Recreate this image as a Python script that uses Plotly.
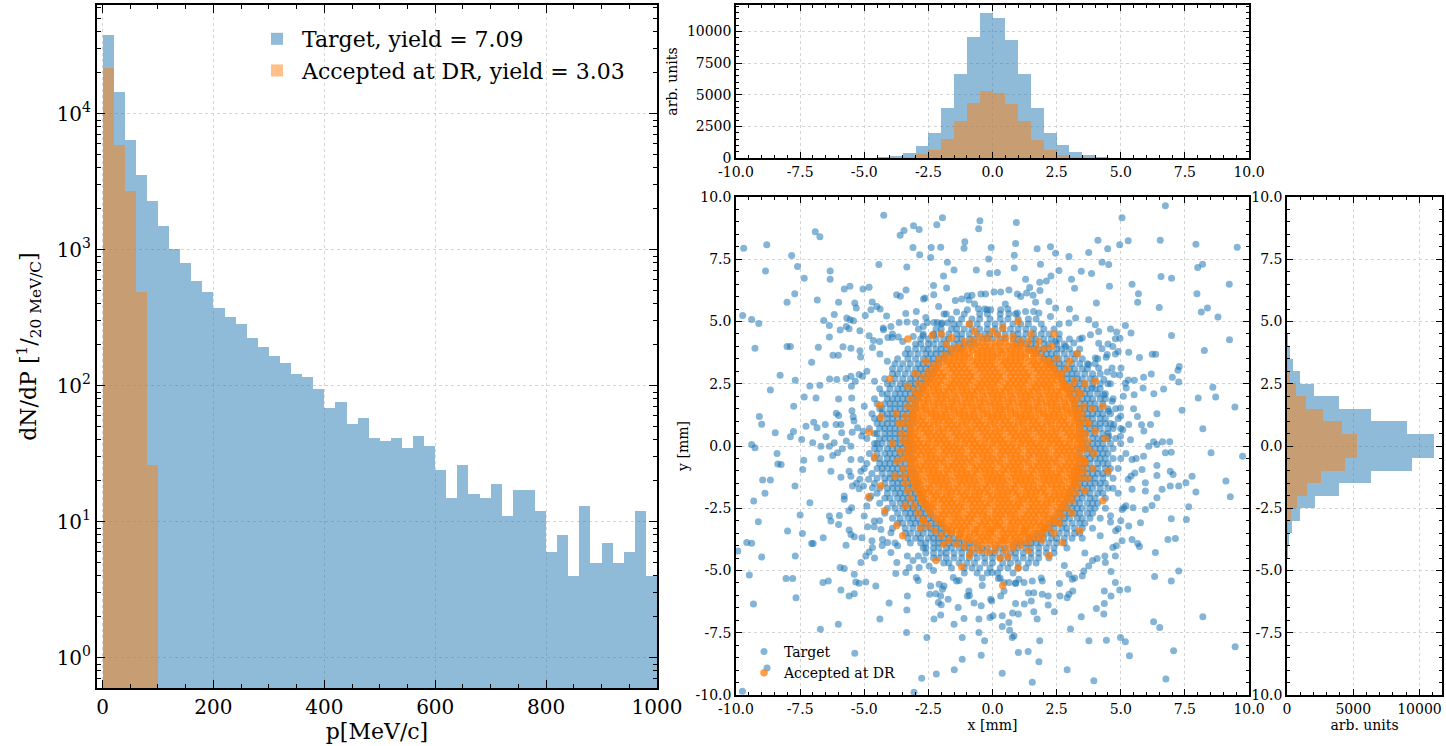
import plotly.graph_objects as go

# ---------------- DATA ----------------
# Left panel: momentum spectrum, 20 MeV/c bins (left edges)
P_BIN_LEFT = [0, 20, 40, 60, 80, 100, 120, 140, 160, 180, 200, 220, 240, 260, 280, 300, 320, 340, 360, 380,
              400, 420, 440, 460, 480, 500, 520, 540, 560, 580, 600, 620, 640, 660, 680, 700, 720, 740, 760, 780,
              800, 820, 840, 860, 880, 900, 920, 940, 960, 980]
P_TARGET = [37700, 14500, 6430, 3530, 2270, 1500, 1010, 796, 590, 489, 376, 319, 285, 223, 192, 165, 148, 122, 117, 95,
            69, 76, 52, 58, 41, 39, 41, 35, 43, 36, 24, 15, 26, 16, 15, 19, 11, 17, 17, 12,
            6, 8, 4, 13, 5, 7, 5, 6, 12, 4]
P_ACCEPTED = [21800, 5910, 2700, 489, 26]
P_TICKS = [0, 200, 400, 600, 800, 1000]
P_LOG_TICKS = [1, 10, 100, 1000, 10000]
P_LOG_LABELS = ["10<sup>0</sup>", "10<sup>1</sup>", "10<sup>2</sup>", "10<sup>3</sup>", "10<sup>4</sup>"]
LEGEND_TARGET = "Target, yield = 7.09"
LEGEND_ACCEPTED = "Accepted at DR, yield = 3.03"

# Projections: 0.5 mm bins (left edges)
XY_BIN_LEFT = [-5.0, -4.5, -4.0, -3.5, -3.0, -2.5, -2.0, -1.5, -1.0, -0.5,
               0.0, 0.5, 1.0, 1.5, 2.0, 2.5, 3.0, 3.5, 4.0, 4.5]
X_TARGET = [30, 90, 190, 410, 930, 1950, 3950, 6620, 9580, 11500,
            11100, 9300, 6620, 3950, 2000, 1000, 460, 210, 95, 35]
X_ACCEPTED = [0, 0, 30, 110, 280, 640, 1470, 2900, 4380, 5280,
              5150, 4280, 2930, 1460, 660, 270, 100, 30, 0, 0]
Y_TARGET = [30, 90, 160, 380, 990, 2080, 3960, 6310, 9400, 11060,
            11060, 9080, 6360, 3890, 2030, 990, 445, 200, 90, 30]
Y_ACCEPTED = [0, 0, 20, 80, 300, 720, 1530, 2600, 4380, 5250,
              5250, 4130, 2700, 1410, 670, 250, 80, 25, 0, 0]
MM_TICKS = [-10, -7.5, -5, -2.5, 0, 2.5, 5, 7.5, 10]
MM_LABELS = ["-10.0", "-7.5", "-5.0", "-2.5", "0.0", "2.5", "5.0", "7.5", "10.0"]
HX_TICKS = [0, 2500, 5000, 7500, 10000]
HX_LABELS = ["0", "2500", "5000", "7500", "10000"]
HY_TICKS = [0, 5000, 10000]
HY_LABELS = ["0", "5000", "10000"]

# Scatter (x, y in mm).
BLUE_OUTER_PAIRS = """
-9.7,7.94 -8.8,8.08 -8.85,7.03 -7.83,7.65 -7.6,7.21 -7.34,6.74 -6.91,8.6 -6.73,8.4 -6.33,7.03 -6.33,6.7
-7.71,6.11 -8.01,5.77 -6.83,5.86 -9.74,5.24 -9.39,5.08 -9.11,4.92 -9.26,3.93 -8.01,4.0 -7.88,4.0 -7.05,3.36
-6.79,3.97 -8.28,2.84 -7.69,2.64 -8.66,2.25 -7.75,1.6 -7.34,1.97 -6.88,1.93 -7.12,2.41 -6.73,2.44 -9.09,1.18
-9.0,0.87 -8.47,0.53 -7.88,0.37 -7.76,0.58 -7.27,0.79 -6.97,0.95 -6.84,0.73 -6.52,0.86 -6.49,0.37 -7.44,0.26
-4.24,9.27 -3.6,8.46 -3.45,8.65 -3.08,8.85 -2.86,8.69 -2.17,8.89 -1.95,9.17 -0.49,9.05 -0.54,8.72 -1.08,8.2
-1.11,7.94 -0.05,7.97 -0.15,7.51 -0.11,6.93 -0.63,7.07 -1.5,7.07 -1.91,6.83 -1.76,7.38 -2.02,7.98 -2.39,7.97
-2.41,7.57 -2.84,7.68 -3.1,7.97 -3.34,7.19 -4.43,7.29 -5.78,6.31 -5.56,6.42 -5.05,6.31 -4.81,6.38 -6.0,5.77
-6.58,5.04 -6.17,5.28 -6.36,4.84 -6.36,4.38 -5.94,4.66 -5.68,5.14 -5.55,5.07 -5.42,5.03 -5.7,4.8 -5.59,4.71
-5.37,5.74 -5.31,5.54 -4.96,5.24 -4.74,5.47 -4.69,5.78 -4.51,5.6 -4.38,5.5 -4.13,5.22 -3.74,6.07 -3.59,6.01
-3.37,6.27 -3.38,5.32 -3.64,4.96 -5.17,4.63 -4.81,4.43 -4.64,4.24 -4.26,4.74 -4.25,4.67 -3.96,4.8 -4.08,4.36
-3.91,4.36 -3.67,4.38 -5.83,3.99 -5.52,3.93 -5.17,3.83 -6.22,3.64 -6.01,3.64 -5.14,3.57 -4.68,3.96 -4.39,3.69
-6.07,2.67 -6.35,2.69 -5.71,2.71 -5.52,2.8 -5.35,2.6 -5.2,2.87 -5.07,2.8 -6.0,1.89 -5.49,1.93 -5.48,1.42
-5.43,1.17 -6.09,1.32 -6.0,1.22 -5.91,0.86 -5.88,0.53 -5.47,0.55 -5.26,0.73 -5.04,0.59 -6.1,0.86
-2.69,5.9 -2.63,5.94 -2.29,6.07 -2.3,6.45 -1.79,6.35 -1.45,5.84 -0.98,6.03 -0.92,5.86 -0.8,6.05 -0.45,6.1
-0.27,6.1 -0.2,5.47 -0.07,5.47 -1.4,5.38 -0.98,5.47 -0.55,5.51 -2.6,5.16 -2.97,5.4 -3.33,4.98 -1.89,5.3
-3.0,4.96 -2.89,4.7 -2.54,4.96 -2.28,4.96 -2.15,4.96 -1.97,4.94 -1.75,4.95 -3.09,4.4 -2.71,4.43 -2.29,4.46
6.74,9.65 5.05,9.17 0.93,8.98 0.9,8.13 0.85,7.66 0.85,7.15 1.74,7.92 2.26,8.0 2.46,7.74 1.87,7.3
2.98,7.61 2.59,7.05 2.28,6.83 2.1,6.63 1.84,6.58 1.29,6.7 1.45,6.37 0.64,6.27 0.32,6.18 0.06,6.18
0.97,6.1 1.33,6.14 1.58,6.05 1.85,6.25 1.68,5.77 0.19,6.97 3.08,6.7 3.2,6.34 3.46,7.02 3.86,6.93
3.75,7.77 4.11,8.26 4.49,7.92 4.27,7.38 4.53,7.29 4.56,6.42 4.05,5.74 4.96,8.08 5.29,8.24 6.54,8.26
6.57,6.81 6.98,6.74 5.44,6.5 5.69,6.11 5.66,5.77 6.5,5.56 7.93,8.1 8.0,7.17 8.19,7.3 7.97,6.11
8.14,5.38 8.38,5.54 8.79,5.18 9.23,6.5 9.54,7.98 9.24,4.27 8.26,3.84 6.98,4.44 5.18,4.84 5.4,4.54
4.6,4.7 4.84,4.58 4.79,4.31 4.97,4.33 5.31,3.77 5.73,3.55 6.23,3.68 6.36,3.68 7.28,3.19 7.23,3.04
7.01,2.76 6.67,2.29 6.19,2.89 5.89,2.76 5.53,2.64 5.29,2.65 5.18,2.52 5.21,2.33 5.52,2.06 5.87,2.33
6.29,2.1 7.26,2.57 7.39,1.44 8.02,1.93 8.59,2.36 8.7,1.97 9.45,1.57 8.2,0.69 6.41,1.3 5.65,1.18
5.81,0.85 6.16,0.86 5.08,0.65 5.38,0.25 6.28,0.17 6.63,0.17 6.91,0.17 4.79,3.69 4.69,4.0 4.27,3.91
4.43,3.56 4.66,3.13 5.01,3.13 4.96,2.85 4.73,2.87 4.48,2.97
0.32,5.47 0.64,5.31 0.97,5.34 1.29,5.4 1.81,5.34 2.26,5.2 2.46,5.54 2.98,4.94 3.24,5.14 3.75,5.07
4.01,4.87 4.14,4.6 3.82,4.47 3.5,4.34 3.17,4.14 2.85,4.0 2.46,4.2 4.14,4.13 4.47,3.67 4.01,3.53
3.75,3.27 4.14,3.13 4.34,2.67 3.88,2.33 4.34,2.06 4.66,1.8 4.99,1.53 4.53,1.4 4.73,0.86 4.53,0.39
4.99,0.39 5.31,0.86
-9.39,0.06 -9.26,-0.07 -8.4,-0.3 -8.37,-0.72 -8.24,-0.74 -7.36,-0.57 -7.4,-0.94 -8.96,-1.37 -8.66,-1.37 -8.87,-1.9
-9.31,-2.21 -9.13,-3.04 -9.58,-3.88 -9.39,-3.91 -9.93,-4.22 -9.0,-4.46 -9.48,-5.18 -9.32,-6.35 -8.05,-5.32 -7.79,-5.32
-7.66,-6.09 -7.69,-4.42 -7.99,-3.41 -7.7,-1.61 -7.12,-2.28 -7.5,-2.77 -7.41,-3.51 -7.05,-3.92 -6.99,-3.92 -6.6,-3.68
-6.61,-5.48 -6.4,-5.42 -6.71,-7.36 -6.01,-7.16 -5.37,-8.32 -8.79,-8.92 -9.75,-9.85 -6.69,-0.51 -6.3,-1.01 -6.04,-0.27
-5.91,-1.25 -5.52,-1.21 -5.59,-1.01 -5.46,-1.61 -5.13,-1.01 -5.17,-1.34 -5.03,-1.61 -5.78,-2.01 -5.78,-2.14 -5.49,-2.48
-6.36,-2.81 -6.3,-3.01 -5.97,-2.79 -6.0,-3.15 -5.59,-3.37 -5.52,-3.55 -5.39,-3.64 -5.09,-3.68 -5.71,-3.99 -5.94,-4.88
-5.78,-4.92 -5.39,-5.15 -5.13,-4.68 -4.94,-4.42 -4.81,-4.26 -4.68,-4.08 -4.7,-3.81 -4.55,-5.62 -5.33,-5.46 -5.2,-5.51
-4.94,-5.46 -5.59,-6.02 -5.39,-5.93 -5.91,-5.78 -4.39,-6.95 -4.03,-6.31 -3.77,-5.12 -3.38,-5.08 -3.34,-6.59 -3.35,-7.49
-3.32,-6.02 -2.97,-5.28 -2.86,-4.88 -2.56,-7.69 -2.76,-9.33 -3.06,-9.89 -2.28,-6.95 -2.19,-9.16 -2.02,-6.79 -2.0,-6.38
-2.02,-6.02 -2.11,-6.29 -2.21,-5.93 -2.45,-5.95 -2.41,-5.62 -1.89,-5.62 -1.95,-5.75 -1.73,-6.15 -1.5,-7.16 -1.49,-8.99
-1.18,-7.69 -1.18,-8.56 -1.34,-6.49 -1.11,-6.93 -0.98,-6.02 -0.72,-6.31 -0.53,-7.49 -0.44,-8.4 -0.31,-7.82 -0.53,-6.95
-0.44,-6.42 -0.1,-6.89 -0.07,-6.15 -0.92,-5.82 -1.53,-5.28 -1.4,-5.42 -2.08,-5.55 -2.47,-4.82 -2.67,-4.58 -2.89,-4.42
-3.32,-4.42 -3.25,-4.88 -3.73,-4.68 -3.96,-4.28 -3.7,-4.01 -4.09,-3.88 -4.29,-3.75 -3.96,-3.48 -4.35,-3.35 -4.61,-3.24
-4.61,-3.01 -4.87,-3.24 -5.0,-2.81 -4.9,-2.41 -4.74,-2.01 -4.68,-1.68 -5.2,-1.72 -4.83,-1.34 -5.52,-0.54 -5.13,-0.54
-5.52,-0.01 -5.85,-0.11 -6.23,-0.38 -6.36,-0.01 -6.17,0.13 -6.69,-0.01 -7.01,0.13
8.52,-0.27 9.75,-0.41 9.1,-1.41 9.27,-2.04 7.93,-1.85 7.78,-1.21 7.54,-1.48 7.65,-2.44 7.56,-2.95 6.97,-2.92
6.84,-3.75 7.13,-3.71 7.26,-5.02 6.97,-5.42 6.35,-4.28 6.32,-5.24 5.66,-3.92 5.73,-4.04 8.2,-6.86 6.28,-7.06
6.52,-7.29 7.06,-8.22 6.76,-9.36 9.46,-8.06 5.34,-8.42 5.18,-7.86 4.99,-7.69 4.44,-7.8 3.76,-7.82 2.91,-8.99
3.95,-9.43 1.55,-9.49 0.38,-9.13 1.81,-8.66 1.39,-8.25 1.01,-8.29 1.84,-7.82 0.77,-7.69 0.84,-7.62 0.67,-7.4
0.38,-7.25 0.02,-6.82 0.38,-6.82 0.64,-7.09 0.78,-6.71 1.01,-6.75 1.24,-6.35 0.9,-6.33 1.51,-6.22 1.74,-6.95
1.61,-6.66 2.17,-6.39 2.41,-6.66 3.04,-7.35 3.46,-6.86 4.05,-6.53 4.36,-6.33 4.34,-6.75 4.62,-6.02 4.36,-5.82
4.79,-5.48 4.96,-5.78 5.27,-5.75 4.62,-5.04 4.4,-4.68 2.98,-5.95 3.13,-5.82 2.91,-6.09 2.63,-6.02 2.17,-6.02
1.94,-5.95 1.61,-5.89 2.61,-5.52 1.94,-5.42 1.55,-5.42 1.23,-5.48 1.03,-5.35 0.9,-5.52 0.64,-5.48 0.45,-5.48
0.32,-6.02 -0.03,-6.22 0.45,-5.82 -0.01,-5.08 0.23,-5.32 3.5,-5.22 2.98,-5.15 3.11,-5.35 3.56,-5.02 3.75,-4.82
4.08,-4.52 4.38,-4.42 4.69,-4.08 4.83,-4.01 4.79,-4.42 5.05,-3.81 5.44,-3.75 5.77,-3.08 5.96,-2.55 6.22,-2.39
6.41,-2.08 6.61,-1.74 5.96,-1.48 5.96,-1.81 6.41,-1.18 6.93,-1.61 7.04,-1.14 7.26,-1.61 6.93,-1.01 6.74,-0.27
6.97,-0.25 6.41,-0.78 6.09,-0.01 6.41,0.06 5.89,-0.41 5.83,-0.94 5.44,-0.54 5.55,-1.08 5.29,-1.34 5.44,-1.74
5.12,-2.48 5.48,-2.48 5.05,-2.55 5.31,-3.21 4.6,-3.05 4.9,-3.32
5.0,1.2 5.2,-0.3 4.9,-1.9 4.6,-2.8 4.2,-3.6 3.6,-4.3 2.8,-4.8 1.9,-5.3 0.9,-5.5 -0.4,-5.6
-1.3,-5.4 -2.3,-5.0 -3.1,-4.6 -3.8,-3.9 -4.4,-3.0 -4.8,-2.1 -5.0,-0.9 -5.1,0.4 -5.0,1.6 -4.6,2.6
-4.1,3.4 -3.5,4.2 -2.7,4.8 -1.8,5.3 -0.7,5.7 0.5,5.7 1.6,5.4 2.6,4.9 3.4,4.3 4.1,3.5
4.6,2.5 5.1,2.0 5.4,-1.2 5.2,-2.4 4.8,-3.4 3.9,-4.6 -4.3,-4.0 -5.3,-1.5 -5.4,1.0 -4.9,3.0
-3.9,4.5 -1.2,5.9 1.1,6.0 3.0,5.5 4.5,4.1 5.5,1.5 5.6,-0.5 5.0,-3.0 3.2,-5.3 1.4,-5.9
-0.9,-6.0 -2.9,-5.4 -4.6,-4.5 -5.6,-2.6 -5.7,0.2 -5.5,2.4 -4.4,4.2 -2.1,5.6 2.2,5.8 4.9,3.8 5.9,0.6
"""

# dense blue band around the accepted core: "y: x x x ..."
BLUE_BAND_ROWS = [
    "5.5: -0.3 0.6",
    "5.3: -1.1 -0.5 -0.2 0.3 0.9",
    "5.1: -1.6 -1.2 -0.8 -0.5 -0.1 0.3 0.6 1.0 1.4 1.7",
    "4.9: -2.0 -1.5 -1.3 -0.9 -0.6 -0.2 0.1 0.4 0.8 1.1 1.4 1.9",
    "4.7: -2.2 -2.0 -1.6 -1.4 -1.1 -0.8 -0.5 -0.2 0.1 0.4 0.7 1.0 1.3 1.6 2.0 2.4",
    "4.5: -2.7 -2.3 -2.0 -1.7 -1.4 -1.2 -0.9 -0.6 -0.3 -0.1 0.2 0.5 0.8 1.0 1.3 1.6 1.9 2.2 2.6",
    "4.3: -2.8 -2.5 -2.2 -1.9 -1.7 -1.4 -1.2 -0.9 -0.7 -0.4 -0.2 0.0 0.3 0.5 0.8 1.0 1.2 1.5 1.7 2.0 2.3 2.6 3.0",
    "4.1: -3.0 -2.8 -2.5 -2.3 -2.0 -1.8 -1.5 -1.3 -1.1 -0.9 -0.7 0.9 1.1 1.3 1.5 1.7 2.0 2.2 2.5 2.8",
    "3.9: -3.3 -3.0 -2.7 -2.5 -2.2 -2.0 -1.8 -1.6 -1.4 -1.2 1.4 1.6 1.8 2.0 2.2 2.5 2.7 3.0 3.4",
    "3.7: -3.4 -3.2 -2.9 -2.6 -2.4 -2.2 -2.0 -1.8 -1.6 1.7 1.9 2.1 2.3 2.5 2.8 3.1 3.3",
    "3.5: -3.7 -3.3 -3.0 -2.7 -2.5 -2.3 -2.1 -1.9 2.0 2.2 2.4 2.6 2.9 3.2 3.5",
    "3.3: -3.8 -3.5 -3.2 -2.9 -2.7 -2.5 -2.3 -2.1 2.2 2.4 2.6 2.8 3.1 3.4 3.7 4.0",
    "3.1: -3.9 -3.6 -3.3 -3.0 -2.8 -2.6 -2.4 -2.2 2.4 2.6 2.8 3.0 3.2 3.5 3.7",
    "2.9: -3.9 -3.7 -3.4 -3.1 -2.9 -2.7 -2.5 -2.3 2.5 2.7 2.9 3.1 3.3 3.6 3.9 4.2",
    "2.7: -4.2 -3.8 -3.5 -3.2 -3.0 -2.8 -2.6 -2.4 2.7 2.9 3.1 3.3 3.5 3.8 4.0",
    "2.5: -4.1 -3.9 -3.6 -3.4 -3.2 -3.0 -2.8 -2.6 2.8 3.0 3.2 3.4 3.6 3.9 4.2 4.5",
    "2.3: -4.4 -4.0 -3.7 -3.5 -3.3 -3.1 -2.9 -2.7 2.9 3.1 3.3 3.5 3.7 4.0 4.2",
    "2.1: -4.3 -4.1 -3.8 -3.6 -3.4 -3.2 -3.0 -2.8 3.0 3.2 3.4 3.6 3.8 4.1 4.4",
    "1.9: -4.6 -4.1 -3.9 -3.7 -3.5 -3.3 -3.1 -2.9 3.1 3.3 3.5 3.7 3.9 4.2 4.4 4.7",
    "1.7: -4.5 -4.2 -4.0 -3.8 -3.6 -3.4 -3.2 -3.0 3.2 3.4 3.6 3.8 4.0 4.3",
    "1.5: -4.4 -4.3 -4.0 -3.8 -3.6 -3.4 -3.2 -3.0 3.2 3.4 3.6 3.8 4.0 4.2 4.5 4.8",
    "1.3: -4.7 -4.3 -4.1 -3.9 -3.7 -3.5 -3.3 -3.1 3.3 3.5 3.7 3.9 4.1 4.3 4.6",
    "1.1: -4.6 -4.4 -4.1 -3.9 -3.7 -3.5 -3.3 -3.1 3.3 3.5 3.7 3.9 4.2 4.4 4.9",
    "0.9: -4.5 -4.3 -4.1 -3.9 -3.7 -3.5 -3.3 -3.1 3.4 3.6 3.8 4.0 4.2 4.4 4.6",
    "0.7: -4.8 -4.4 -4.2 -4.0 -3.8 -3.6 -3.4 -3.2 3.4 3.6 3.8 4.0 4.2 4.5 4.7 5.0",
    "0.5: -4.6 -4.5 -4.2 -4.0 -3.8 -3.6 -3.4 -3.2 3.4 3.6 3.8 4.0 4.3 4.5",
    "0.3: -4.9 -4.4 -4.2 -4.0 -3.8 -3.6 -3.4 -3.2 3.4 3.6 3.9 4.1 4.3 4.5 4.8",
    "0.1: -4.6 -4.5 -4.3 -4.0 -3.8 -3.6 -3.4 -3.2 3.5 3.7 3.9 4.1 4.3 4.6 5.0",
    "-0.1: -4.6 -4.4 -4.1 -3.9 -3.7 -3.5 -3.3 -3.1 3.4 3.6 3.8 4.0 4.2 4.4 4.7",
    "-0.3: -4.8 -4.5 -4.2 -4.0 -3.8 -3.6 -3.4 -3.2 3.4 3.7 3.9 4.1 4.3 4.5",
    "-0.5: -4.6 -4.4 -4.1 -3.9 -3.7 -3.5 -3.3 -3.1 3.4 3.6 3.8 4.0 4.2 4.4 4.7 5.0",
    "-0.7: -4.9 -4.4 -4.2 -4.0 -3.8 -3.6 -3.4 -3.2 3.4 3.6 3.8 4.1 4.3 4.5",
    "-0.9: -4.5 -4.3 -4.1 -3.9 -3.7 -3.5 -3.3 -3.1 3.3 3.5 3.7 3.9 4.1 4.4 4.6 4.9",
    "-1.1: -4.7 -4.3 -4.0 -3.8 -3.6 -3.4 -3.2 -3.0 3.3 3.5 3.7 3.9 4.1 4.3 4.5",
    "-1.3: -4.5 -4.2 -4.0 -3.8 -3.6 -3.4 -3.2 -3.0 3.2 3.4 3.6 3.8 4.0 4.3 4.7",
    "-1.5: -4.6 -4.2 -3.9 -3.7 -3.5 -3.3 -3.1 -2.9 3.2 3.4 3.6 3.8 4.0 4.2 4.4",
    "-1.7: -4.4 -4.1 -3.9 -3.7 -3.5 -3.3 -3.1 -2.9 3.1 3.3 3.5 3.7 3.9 4.2 4.5 4.7",
    "-1.9: -4.5 -4.1 -3.8 -3.6 -3.4 -3.2 -3.0 -2.8 3.0 3.2 3.4 3.6 3.8 4.1 4.3",
    "-2.1: -4.2 -4.0 -3.7 -3.5 -3.3 -3.1 -2.9 -2.7 2.9 3.1 3.3 3.5 3.8 4.0 4.4",
    "-2.3: -4.4 -3.9 -3.6 -3.4 -3.2 -3.0 -2.8 -2.6 2.8 3.0 3.2 3.4 3.7 3.9 4.1",
    "-2.5: -4.1 -3.8 -3.5 -3.3 -3.1 -2.9 -2.7 -2.5 2.7 2.9 3.1 3.3 3.5 3.8 4.0 4.4",
    "-2.7: -4.2 -3.7 -3.4 -3.2 -3.0 -2.8 -2.6 -2.4 2.6 2.8 3.0 3.2 3.4 3.7 3.9",
    "-2.9: -3.9 -3.6 -3.3 -3.1 -2.9 -2.7 -2.5 -2.3 2.4 2.6 2.8 3.0 3.3 3.5 3.8 4.2",
    "-3.1: -3.7 -3.5 -3.2 -3.0 -2.8 -2.6 -2.4 -2.2 -2.0 2.2 2.4 2.6 2.8 3.1 3.4 3.6",
    "-3.3: -3.9 -3.4 -3.1 -2.8 -2.6 -2.4 -2.2 -2.0 -1.8 2.0 2.2 2.4 2.7 2.9 3.2 3.5 3.9",
    "-3.5: -3.4 -3.2 -2.9 -2.7 -2.4 -2.2 -2.0 -1.8 -1.6 1.7 1.9 2.1 2.3 2.6 2.9 3.2 3.4",
    "-3.7: -3.3 -3.0 -2.8 -2.5 -2.3 -2.1 -1.9 -1.7 -1.5 -1.3 1.4 1.6 1.8 2.0 2.3 2.5 2.8 3.1 3.5",
    "-3.9: -3.2 -2.8 -2.6 -2.3 -2.1 -1.9 -1.7 -1.5 -1.3 -1.1 -0.9 -0.7 0.9 1.1 1.3 1.5 1.7 1.9 2.2 2.5 2.8",
    "-4.1: -2.7 -2.6 -2.3 -2.1 -1.8 -1.6 -1.3 -1.1 -0.9 -0.6 -0.4 -0.2 0.1 0.3 0.5 0.8 1.0 1.3 1.5 1.8 2.1 2.4 2.9",
    "-4.3: -2.6 -2.3 -2.0 -1.8 -1.5 -1.2 -0.9 -0.7 -0.4 -0.1 0.1 0.4 0.7 0.9 1.2 1.5 1.8 2.1 2.4",
    "-4.5: -2.3 -2.1 -1.8 -1.5 -1.2 -0.9 -0.6 -0.3 0.0 0.3 0.6 0.9 1.2 1.5 1.8 2.2",
    "-4.7: -1.9 -1.7 -1.3 -1.0 -0.7 -0.3 0.0 0.4 0.7 1.0 1.4 1.7",
    "-4.9: -1.6 -1.1 -0.8 -0.5 -0.1 0.3 0.6 1.0 1.3",
    "-5.1: -1.1 -0.6 -0.2 0.2 0.8",
    "-5.3: -0.4 0.3",
]

# saturated accepted core: "y: x x x ..."
ORANGE_CORE_ROWS = [
    "-3.95: -0.6 -0.4 -0.1 0.1 0.3 0.6 0.8",
    "-3.8: -1.0 -0.8 -0.5 -0.3 -0.1 0.2 0.4 0.5 0.8 1.0 1.2",
    "-3.65: -1.3 -1.1 -0.9 -0.6 -0.4 -0.2 0.0 0.3 0.5 0.7 0.9 1.1 1.4 1.5",
    "-3.5: -1.6 -1.3 -1.2 -0.9 -0.7 -0.5 -0.3 -0.1 0.1 0.4 0.6 0.8 1.0 1.2 1.3 1.6 1.8",
    "-3.35: -1.8 -1.6 -1.4 -1.2 -1.0 -0.7 -0.6 -0.3 -0.1 0.0 0.3 0.5 0.7 0.9 1.2 1.3 1.5 1.8 2.0",
    "-3.2: -1.9 -1.7 -1.5 -1.3 -1.1 -0.9 -0.6 -0.4 -0.2 0.1 0.2 0.4 0.7 0.9 1.1 1.3 1.5 1.7 1.9 2.1",
    "-3.05: -2.1 -1.9 -1.6 -1.4 -1.2 -1.0 -0.8 -0.5 -0.3 -0.1 0.1 0.3 0.6 0.8 1.0 1.2 1.4 1.6 1.8 2.0 2.3",
    "-2.9: -2.2 -2.0 -1.8 -1.5 -1.3 -1.1 -0.9 -0.7 -0.4 -0.2 0.0 0.2 0.4 0.7 0.9 1.1 1.3 1.5 1.7 2.0 2.2 2.4",
    "-2.75: -2.4 -2.1 -1.9 -1.7 -1.5 -1.3 -1.0 -0.8 -0.6 -0.4 -0.2 0.1 0.3 0.5 0.7 0.9 1.2 1.4 1.6 1.8 2.0 2.2 2.5",
    "-2.6: -2.5 -2.3 -2.0 -1.8 -1.6 -1.4 -1.2 -0.9 -0.7 -0.5 -0.3 0.0 0.2 0.4 0.6 0.8 1.0 1.3 1.5 1.7 1.9 2.1 2.4 2.6",
    "-2.45: -2.6 -2.4 -2.2 -1.9 -1.7 -1.5 -1.3 -1.1 -0.8 -0.6 -0.4 -0.2 0.1 0.3 0.5 0.7 0.9 1.1 1.4 1.6 1.8 2.0 2.2 2.5 2.7",
    "-2.3: -2.7 -2.5 -2.3 -2.0 -1.8 -1.6 -1.4 -1.2 -0.9 -0.7 -0.5 -0.3 -0.1 0.2 0.4 0.6 0.8 1.0 1.2 1.5 1.7 1.9 2.1 2.3 2.6 2.8",
    "-2.15: -2.8 -2.6 -2.3 -2.1 -1.9 -1.7 -1.5 -1.2 -1.0 -0.8 -0.6 -0.4 -0.1 0.1 0.3 0.5 0.7 1.0 1.2 1.4 1.6 1.8 2.1 2.3 2.5 2.7 2.9",
    "-2.0: -2.8 -2.7 -2.4 -2.2 -2.0 -1.8 -1.6 -1.3 -1.1 -0.9 -0.7 -0.5 -0.2 0.0 0.2 0.4 0.6 0.9 1.1 1.3 1.5 1.7 2.0 2.2 2.4 2.6 2.8 3.0",
    "-1.85: -2.9 -2.7 -2.5 -2.3 -2.1 -1.8 -1.6 -1.4 -1.2 -1.0 -0.7 -0.5 -0.3 -0.1 0.2 0.4 0.6 0.8 1.0 1.3 1.5 1.7 1.9 2.1 2.4 2.6 2.8 3.0",
    "-1.7: -3.0 -2.8 -2.6 -2.4 -2.1 -1.9 -1.7 -1.5 -1.3 -1.0 -0.8 -0.6 -0.4 -0.2 0.1 0.3 0.5 0.7 0.9 1.2 1.4 1.6 1.8 2.0 2.3 2.5 2.7 2.9 3.1",
    "-1.55: -3.0 -2.8 -2.5 -2.3 -2.1 -1.9 -1.7 -1.4 -1.2 -1.0 -0.8 -0.6 -0.3 -0.1 0.1 0.3 0.5 0.8 1.0 1.2 1.4 1.6 1.9 2.1 2.3 2.5 2.7 3.0 3.2",
    "-1.4: -3.1 -2.9 -2.7 -2.4 -2.2 -2.0 -1.8 -1.6 -1.3 -1.1 -0.9 -0.7 -0.5 -0.2 0.0 0.2 0.4 0.6 0.9 1.1 1.3 1.5 1.7 2.0 2.2 2.4 2.6 2.8 3.1 3.2",
    "-1.25: -3.1 -2.9 -2.6 -2.4 -2.2 -2.0 -1.8 -1.5 -1.3 -1.1 -0.9 -0.7 -0.4 -0.2 0.0 0.2 0.4 0.7 0.9 1.1 1.3 1.5 1.8 2.0 2.2 2.4 2.6 2.9 3.1 3.3",
    "-1.1: -3.2 -3.0 -2.8 -2.5 -2.3 -2.1 -1.9 -1.7 -1.4 -1.2 -1.0 -0.8 -0.6 -0.3 -0.1 0.1 0.3 0.5 0.8 1.0 1.2 1.4 1.6 1.9 2.1 2.3 2.5 2.7 3.0 3.2 3.3",
    "-0.95: -3.2 -2.9 -2.7 -2.5 -2.3 -2.1 -1.8 -1.6 -1.4 -1.2 -1.0 -0.7 -0.5 -0.3 -0.1 0.1 0.4 0.6 0.8 1.0 1.2 1.5 1.7 1.9 2.1 2.3 2.6 2.8 3.0 3.2 3.4",
    "-0.8: -3.2 -3.0 -2.8 -2.6 -2.4 -2.2 -1.9 -1.7 -1.5 -1.3 -1.1 -0.8 -0.6 -0.4 -0.2 0.0 0.3 0.5 0.7 0.9 1.1 1.4 1.6 1.8 2.0 2.2 2.5 2.7 2.9 3.1 3.3",
    "-0.65: -3.2 -3.0 -2.7 -2.5 -2.3 -2.1 -1.9 -1.6 -1.4 -1.2 -1.0 -0.8 -0.5 -0.3 -0.1 0.1 0.3 0.6 0.8 1.0 1.2 1.4 1.7 1.9 2.1 2.3 2.5 2.8 3.0 3.2 3.4",
    "-0.5: -3.3 -3.1 -2.9 -2.6 -2.4 -2.2 -2.0 -1.8 -1.5 -1.3 -1.1 -0.9 -0.7 -0.4 -0.2 0.0 0.2 0.4 0.7 0.9 1.1 1.3 1.5 1.8 2.0 2.2 2.4 2.6 2.9 3.1 3.3 3.5",
    "-0.35: -3.3 -3.0 -2.8 -2.6 -2.4 -2.2 -1.9 -1.7 -1.5 -1.3 -1.1 -0.8 -0.6 -0.4 -0.2 0.0 0.3 0.5 0.7 0.9 1.1 1.4 1.6 1.8 2.0 2.2 2.5 2.7 2.9 3.1 3.3",
    "-0.2: -3.3 -3.1 -2.9 -2.7 -2.5 -2.3 -2.0 -1.8 -1.6 -1.4 -1.2 -0.9 -0.7 -0.5 -0.3 -0.1 0.2 0.4 0.6 0.8 1.0 1.3 1.5 1.7 1.9 2.1 2.4 2.6 2.8 3.0 3.2 3.5",
    "-0.05: -3.3 -3.0 -2.8 -2.6 -2.4 -2.2 -1.9 -1.7 -1.5 -1.3 -1.1 -0.8 -0.6 -0.4 -0.2 0.0 0.3 0.5 0.7 0.9 1.1 1.4 1.6 1.8 2.0 2.2 2.5 2.7 2.9 3.1 3.3 3.5",
    "0.1: -3.3 -3.1 -2.9 -2.7 -2.5 -2.2 -2.0 -1.8 -1.6 -1.4 -1.1 -0.9 -0.7 -0.5 -0.3 0.0 0.2 0.4 0.6 0.8 1.1 1.3 1.5 1.7 1.9 2.2 2.4 2.6 2.8 3.0 3.3 3.5",
    "0.25: -3.2 -3.0 -2.8 -2.5 -2.3 -2.1 -1.9 -1.7 -1.4 -1.2 -1.0 -0.8 -0.6 -0.3 -0.1 0.1 0.3 0.5 0.8 1.0 1.2 1.4 1.6 1.9 2.1 2.3 2.5 2.7 3.0 3.2 3.4",
    "0.4: -3.3 -3.1 -2.9 -2.6 -2.4 -2.2 -2.0 -1.8 -1.5 -1.3 -1.1 -0.9 -0.7 -0.4 -0.2 0.0 0.2 0.4 0.7 0.9 1.1 1.3 1.5 1.8 2.0 2.2 2.4 2.6 2.9 3.1 3.3 3.5",
    "0.55: -3.2 -3.0 -2.7 -2.5 -2.3 -2.1 -1.9 -1.6 -1.4 -1.2 -1.0 -0.8 -0.5 -0.3 -0.1 0.1 0.3 0.6 0.8 1.0 1.2 1.4 1.7 1.9 2.1 2.3 2.5 2.8 3.0 3.2 3.4",
    "0.7: -3.2 -3.0 -2.8 -2.6 -2.4 -2.1 -1.9 -1.7 -1.5 -1.3 -1.0 -0.8 -0.6 -0.4 -0.2 0.1 0.3 0.5 0.7 0.9 1.2 1.4 1.6 1.8 2.0 2.3 2.5 2.7 2.9 3.1 3.4",
    "0.85: -3.2 -2.9 -2.7 -2.5 -2.3 -2.1 -1.8 -1.6 -1.4 -1.2 -1.0 -0.7 -0.5 -0.3 -0.1 0.1 0.4 0.6 0.8 1.0 1.2 1.5 1.7 1.9 2.1 2.3 2.6 2.8 3.0 3.2 3.4",
    "1.0: -3.2 -3.0 -2.8 -2.6 -2.3 -2.1 -1.9 -1.7 -1.5 -1.2 -1.0 -0.8 -0.6 -0.4 -0.1 0.1 0.3 0.5 0.7 1.0 1.2 1.4 1.6 1.8 2.1 2.3 2.5 2.7 2.9 3.2 3.4",
    "1.15: -3.1 -2.9 -2.7 -2.4 -2.2 -2.0 -1.8 -1.6 -1.3 -1.1 -0.9 -0.7 -0.5 -0.2 0.0 0.2 0.4 0.6 0.9 1.1 1.3 1.5 1.7 2.0 2.2 2.4 2.6 2.8 3.1 3.3",
    "1.3: -3.1 -2.9 -2.6 -2.4 -2.2 -2.0 -1.8 -1.5 -1.3 -1.1 -0.9 -0.7 -0.4 -0.2 0.0 0.2 0.4 0.7 0.9 1.1 1.3 1.5 1.8 2.0 2.2 2.4 2.6 2.9 3.1 3.3",
    "1.45: -3.1 -2.8 -2.6 -2.4 -2.2 -1.9 -1.7 -1.5 -1.3 -1.1 -0.8 -0.6 -0.4 -0.2 0.1 0.3 0.5 0.7 0.9 1.2 1.4 1.6 1.8 2.0 2.3 2.5 2.7 2.9 3.1 3.3",
    "1.6: -3.0 -2.8 -2.6 -2.3 -2.1 -1.9 -1.7 -1.5 -1.2 -1.0 -0.8 -0.6 -0.4 -0.1 0.1 0.3 0.5 0.7 1.0 1.2 1.4 1.6 1.8 2.1 2.3 2.5 2.7 2.9 3.2",
    "1.75: -3.0 -2.7 -2.5 -2.3 -2.1 -1.9 -1.6 -1.4 -1.2 -1.0 -0.8 -0.5 -0.3 -0.1 0.1 0.3 0.6 0.8 1.0 1.2 1.4 1.7 1.9 2.1 2.3 2.5 2.8 3.0 3.2",
    "1.9: -2.9 -2.7 -2.5 -2.2 -2.0 -1.8 -1.6 -1.4 -1.1 -0.9 -0.7 -0.5 -0.3 0.0 0.2 0.4 0.6 0.8 1.1 1.3 1.5 1.7 1.9 2.2 2.4 2.6 2.8 3.1",
    "2.05: -2.9 -2.6 -2.4 -2.2 -2.0 -1.8 -1.5 -1.3 -1.1 -0.9 -0.7 -0.4 -0.2 0.0 0.2 0.4 0.7 0.9 1.1 1.3 1.5 1.8 2.0 2.2 2.4 2.6 2.9 3.0",
    "2.2: -2.8 -2.6 -2.3 -2.1 -1.9 -1.7 -1.5 -1.2 -1.0 -0.8 -0.6 -0.4 -0.1 0.1 0.3 0.5 0.7 1.0 1.2 1.4 1.6 1.8 2.1 2.3 2.5 2.7 3.0",
    "2.35: -2.7 -2.5 -2.3 -2.1 -1.8 -1.6 -1.4 -1.2 -1.0 -0.7 -0.5 -0.3 -0.1 0.1 0.4 0.6 0.8 1.0 1.2 1.5 1.7 1.9 2.1 2.3 2.6 2.8 2.9",
    "2.5: -2.6 -2.4 -2.2 -2.0 -1.7 -1.5 -1.3 -1.1 -0.9 -0.6 -0.4 -0.2 0.0 0.2 0.5 0.7 0.9 1.1 1.3 1.6 1.8 2.0 2.2 2.4 2.7 2.8",
    "2.65: -2.5 -2.3 -2.1 -1.9 -1.6 -1.4 -1.2 -1.0 -0.8 -0.5 -0.3 -0.1 0.1 0.3 0.6 0.8 1.0 1.2 1.4 1.7 1.9 2.1 2.3 2.5 2.7",
    "2.8: -2.4 -2.2 -2.0 -1.8 -1.5 -1.3 -1.1 -0.9 -0.7 -0.4 -0.2 0.0 0.2 0.4 0.7 0.9 1.1 1.3 1.5 1.8 2.0 2.2 2.4 2.6",
    "2.95: -2.3 -2.1 -1.9 -1.6 -1.4 -1.2 -1.0 -0.8 -0.5 -0.3 -0.1 0.1 0.3 0.6 0.8 1.0 1.2 1.4 1.7 1.9 2.1 2.3 2.5",
    "3.1: -2.2 -2.0 -1.7 -1.5 -1.3 -1.1 -0.9 -0.6 -0.4 -0.2 0.0 0.2 0.5 0.7 0.9 1.1 1.3 1.6 1.8 2.0 2.2 2.4",
    "3.25: -2.1 -1.8 -1.6 -1.4 -1.2 -1.0 -0.7 -0.5 -0.3 -0.1 0.1 0.4 0.6 0.8 1.0 1.2 1.5 1.7 1.9 2.1 2.3",
    "3.4: -1.9 -1.7 -1.5 -1.3 -1.1 -0.8 -0.6 -0.4 -0.2 0.0 0.3 0.5 0.7 0.9 1.1 1.4 1.6 1.8 2.1",
    "3.55: -1.7 -1.5 -1.3 -1.1 -0.9 -0.6 -0.4 -0.2 0.0 0.2 0.5 0.7 0.9 1.1 1.3 1.6 1.9",
    "3.7: -1.5 -1.3 -1.1 -0.9 -0.6 -0.4 -0.2 0.0 0.2 0.4 0.7 0.9 1.1 1.3 1.6 1.7",
    "3.85: -1.3 -1.1 -0.8 -0.6 -0.4 -0.2 0.0 0.3 0.5 0.7 0.9 1.1 1.4 1.5",
    "4.0: -1.0 -0.8 -0.5 -0.3 -0.1 0.1 0.3 0.6 0.8 1.0 1.2",
    "4.15: -0.6 -0.4 -0.2 0.1 0.3 0.5 0.8",
]

ORANGE_EDGE_PAIRS = """
3.7,0.2 3.6,-0.6 3.65,1.0 3.55,1.6 3.45,2.1 3.2,2.6 2.9,3.1 2.5,3.5 2.0,3.9 1.4,4.2
0.8,4.4 0.2,4.45 -0.5,4.4 -1.1,4.2 -1.6,3.9 -2.1,3.5 -2.5,3.0 -2.9,2.5 -3.2,1.9 -3.4,1.2
-3.55,0.5 -3.6,-0.2 -3.5,-0.9 -3.4,-1.5 -3.2,-2.1 -2.9,-2.7 -2.5,-3.2 -2.0,-3.6 -1.4,-3.95 -0.8,-4.15
-0.2,-4.25 0.5,-4.2 1.1,-4.0 1.7,-3.7 2.2,-3.3 2.7,-2.8 3.1,-2.2 3.35,-1.6 3.55,-1.0
4.0,0.6 3.95,-0.3 3.9,1.5 3.6,2.5 3.0,3.4 2.3,4.0 1.5,4.5 0.4,4.75 -0.7,4.6 -1.8,4.1
-2.6,3.4 -3.3,2.4 -3.75,1.3 -3.9,0.1 -3.8,-1.2 -3.4,-2.4 -2.8,-3.3 -1.9,-3.95 -0.9,-4.4 0.3,-4.5
1.4,-4.2 2.4,-3.5 3.1,-2.7 3.6,-1.8 3.9,-0.9 -3.3,4.3 -2.35,4.45 -4.0,2.7 -4.4,1.65 -4.35,1.15
-4.8,0.55 -4.6,-0.45 -4.35,-1.6 -4.2,-2.6 -3.5,-3.6 -2.2,-4.6 -1.2,-4.85 1.0,-4.9 2.2,-4.4 3.4,-3.4
4.3,-2.2 4.5,-1.0 4.4,0.3 4.3,1.6 4.0,2.6 3.3,3.7 2.4,4.5 1.0,5.0 -0.9,4.9 -2.0,4.5
1.94,-3.75 2.72,-3.88 0.4,-5.6 -4.83,-2.04 -3.73,-3.19 3.75,0.9 3.7,-1.3 -3.65,0.9 -3.7,-0.6 3.3,2.2
-3.0,2.9 -2.7,-3.0 2.6,-3.1 0.0,4.6 0.6,-4.45 -1.6,4.35 1.8,4.2
3.75,-0.1 3.62,0.5 3.5,1.3 3.3,1.9 3.05,2.4 2.7,2.9 2.2,3.4 1.7,3.9 1.1,4.2 0.5,4.35
-0.2,4.35 -0.8,4.25 -1.35,4.0 -1.85,3.65 -2.3,3.25 -2.7,2.8 -3.05,2.2 -3.3,1.6 -3.45,0.9 -3.5,0.2
-3.5,-0.5 -3.45,-1.2 -3.3,-1.8 -3.05,-2.4 -2.7,-2.95 -2.25,-3.4 -1.7,-3.8 -1.1,-4.05 -0.5,-4.2 0.1,-4.2
0.8,-4.1 1.4,-3.85 1.95,-3.5 2.45,-3.05 2.9,-2.5 3.25,-1.9 3.45,-1.3 3.6,-0.7
"""

# ---------------- helpers ----------------
FONT = "DejaVu Serif"
BLUE = "rgba(31,119,180,0.5)"
ORANGE = "rgba(255,127,14,0.5)"


def parse_pairs(text):
    xs, ys = [], []
    for tok in text.split():
        a, b = tok.split(",")
        xs.append(float(a))
        ys.append(float(b))
    return xs, ys


def parse_rows(rows):
    xs, ys = [], []
    for r in rows:
        yv, xl = r.split(":")
        for t in xl.split():
            xs.append(float(t))
            ys.append(float(yv))
    return xs, ys


bo_x, bo_y = parse_pairs(BLUE_OUTER_PAIRS)
bb_x, bb_y = parse_rows(BLUE_BAND_ROWS)
oc_x, oc_y = parse_rows(ORANGE_CORE_ROWS)
oe_x, oe_y = parse_pairs(ORANGE_EDGE_PAIRS)
blue_x, blue_y = bo_x + bb_x, bo_y + bb_y
orange_x, orange_y = oc_x + oe_x, oc_y + oe_y


def ax(**kw):
    base = dict(showline=True, linecolor="black", mirror="allticks", ticks="inside",
                tickcolor="black", zeroline=False, showgrid=True, gridcolor="#d4d4d4",
                griddash="dot", gridwidth=1, automargin=False, linewidth=1.5,
                ticklen=6, tickwidth=1,
                tickfont=dict(family=FONT, size=14, color="black"))
    base.update(kw)
    return base


MINOR_LOG = [m * 10 ** e for e in range(-1, 5) for m in range(2, 10)]

fig = go.Figure()

# ---- left: momentum spectrum ----
fig.add_trace(go.Bar(x=P_BIN_LEFT, y=P_TARGET, width=20, offset=0, name=LEGEND_TARGET,
                     marker=dict(color=BLUE, line=dict(width=0)), xaxis="x", yaxis="y", legend="legend"))
fig.add_trace(go.Bar(x=P_BIN_LEFT[:len(P_ACCEPTED)], y=P_ACCEPTED, width=20, offset=0, name=LEGEND_ACCEPTED,
                     marker=dict(color=ORANGE, line=dict(width=0)), xaxis="x", yaxis="y", legend="legend"))

# ---- top: x projection ----
fig.add_trace(go.Bar(x=XY_BIN_LEFT, y=X_TARGET, width=0.5, offset=0, showlegend=False,
                     marker=dict(color=BLUE, line=dict(width=0)), xaxis="x2", yaxis="y2"))
fig.add_trace(go.Bar(x=XY_BIN_LEFT, y=X_ACCEPTED, width=0.5, offset=0, showlegend=False,
                     marker=dict(color=ORANGE, line=dict(width=0)), xaxis="x2", yaxis="y2"))

# ---- center: scatter ----
fig.add_trace(go.Scatter(x=blue_x, y=blue_y, mode="markers", name="Target",
                         marker=dict(color="#1f77b4", opacity=0.55, size=7, line=dict(width=0)),
                         xaxis="x3", yaxis="y3", legend="legend2"))
fig.add_trace(go.Scatter(x=orange_x, y=orange_y, mode="markers", name="Accepted at DR",
                         marker=dict(color="#ff7f0e", opacity=0.75, size=7.5, line=dict(width=0)),
                         xaxis="x3", yaxis="y3", legend="legend2"))

# ---- right: y projection ----
fig.add_trace(go.Bar(y=XY_BIN_LEFT, x=Y_TARGET, width=0.5, offset=0, orientation="h", showlegend=False,
                     marker=dict(color=BLUE, line=dict(width=0)), xaxis="x4", yaxis="y4"))
fig.add_trace(go.Bar(y=XY_BIN_LEFT, x=Y_ACCEPTED, width=0.5, offset=0, orientation="h", showlegend=False,
                     marker=dict(color=ORANGE, line=dict(width=0)), xaxis="x4", yaxis="y4"))

W, H = 1446, 746
LX = [97 / W, 657 / W]
LY = [1 - 688 / H, 1 - 5 / H]
CX = [736 / W, 1249 / W]
TY = [1 - 158 / H, 1 - 5 / H]
SY = [1 - 695 / H, 1 - 197 / H]
RX = [1287 / W, 1442 / W]

fig.update_layout(
    width=W, height=H, margin=dict(l=0, r=0, t=0, b=0),
    paper_bgcolor="white", plot_bgcolor="white",
    barmode="overlay", bargap=0,
    font=dict(family=FONT, color="black"),
    xaxis=ax(domain=LX, anchor="y", range=[-10, 1000], tickvals=P_TICKS, ticklen=8, linewidth=2,
             tickfont=dict(family=FONT, size=20, color="black"),
             minor=dict(ticks="inside", ticklen=4, dtick=50, tick0=0, tickcolor="black", showgrid=False),
             title=dict(text="p[MeV/c]", font=dict(family=FONT, size=22), standoff=2)),
    yaxis=ax(domain=LY, anchor="x", type="log", range=[-0.222, 4.80], tickvals=P_LOG_TICKS,
             ticktext=P_LOG_LABELS, ticklen=8, linewidth=2,
             tickfont=dict(family=FONT, size=20, color="black"),
             minor=dict(ticks="inside", ticklen=4, tickvals=MINOR_LOG, tickcolor="black", showgrid=False),
             title=dict(text="dN/dP [<sup>1</sup>/<sub>20 MeV/C</sub>]", font=dict(family=FONT, size=22), standoff=14)),
    xaxis2=ax(domain=CX, anchor="y2", range=[-10, 10], tickvals=MM_TICKS, ticktext=MM_LABELS,
              minor=dict(ticks="inside", ticklen=3, dtick=0.5, tick0=0, tickcolor="black", showgrid=False)),
    yaxis2=ax(domain=TY, anchor="x2", range=[0, 12100], tickvals=HX_TICKS, ticktext=HX_LABELS,
              minor=dict(ticks="inside", ticklen=3, dtick=500, tick0=0, tickcolor="black", showgrid=False),
              title=dict(text="arb. units", font=dict(family=FONT, size=14), standoff=6)),
    xaxis3=ax(domain=CX, anchor="y3", range=[-10, 10], tickvals=MM_TICKS, ticktext=MM_LABELS,
              minor=dict(ticks="inside", ticklen=3, dtick=0.5, tick0=0, tickcolor="black", showgrid=False),
              title=dict(text="x [mm]", font=dict(family=FONT, size=14), standoff=2)),
    yaxis3=ax(domain=SY, anchor="x3", range=[-10, 10], tickvals=MM_TICKS, ticktext=MM_LABELS,
              minor=dict(ticks="inside", ticklen=3, dtick=0.5, tick0=0, tickcolor="black", showgrid=False),
              title=dict(text="y [mm]", font=dict(family=FONT, size=14), standoff=4)),
    xaxis4=ax(domain=RX, anchor="y4", range=[0, 11700], tickvals=HY_TICKS, ticktext=HY_LABELS,
              minor=dict(ticks="inside", ticklen=3, dtick=1000, tick0=0, tickcolor="black", showgrid=False),
              title=dict(text="arb. units", font=dict(family=FONT, size=14), standoff=2)),
    yaxis4=ax(domain=SY, anchor="x4", range=[-10, 10], tickvals=MM_TICKS, ticktext=MM_LABELS,
              minor=dict(ticks="inside", ticklen=3, dtick=0.5, tick0=0, tickcolor="black", showgrid=False)),
    legend=dict(x=252 / W, y=1 - 18 / H, xanchor="left", yanchor="top", bgcolor="rgba(255,255,255,0)",
                font=dict(family=FONT, size=22, color="black"), tracegroupgap=0, itemwidth=40),
    legend2=dict(x=744 / W, y=1 - 636 / H, xanchor="left", yanchor="top", bgcolor="rgba(255,255,255,0)",
                 font=dict(family=FONT, size=14, color="black"), tracegroupgap=0),
)

fig.write_html("out.html")
